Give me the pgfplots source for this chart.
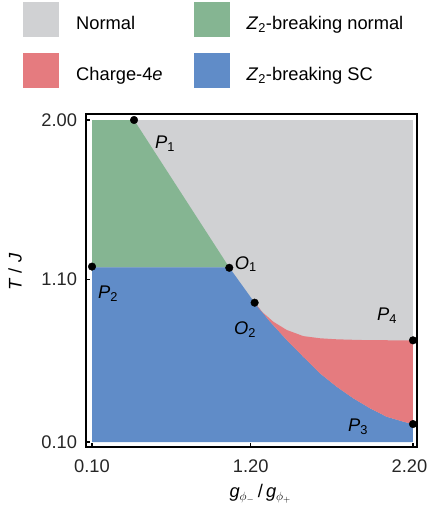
\documentclass[border=0pt]{standalone}
\usepackage{fontspec}
\setmainfont{Liberation Sans}
\usepackage{pgfplots}
\pgfplotsset{compat=1.18}

\definecolor{grayc}{RGB}{208,209,211}
\definecolor{greenc}{RGB}{133,181,146}
\definecolor{redc}{RGB}{229,123,127}
\definecolor{bluec}{RGB}{96,140,200}
\newcommand{\fs}{\fontsize{18.3}{21}\selectfont}

\begin{document}
\begin{tikzpicture}
\begin{axis}[
  at={(86pt,-447pt)}, anchor=south west,
  scale only axis, width=331pt, height=333pt,
  xmin=0.0607, xmax=2.2262, ymin=0.0705, ymax=2.0354,
  axis line style={line width=1.6pt},
  tick align=inside, xtick pos=bottom, ytick pos=left,
  major tick length=4pt, tick style={black, line width=1.2pt},
  xtick={0.1,1.138,2.2}, xticklabels={0.10,1.20,\hspace*{-7pt}2.20},
  ytick={0.1,1.060,2.0}, yticklabels={0.10,1.10,2.00},
  /pgf/number format/assume math mode=true,
  tick label style={font=\fs, text=black!85},
  xticklabel style={yshift=-9pt},
  yticklabel style={xshift=-5.5pt},
  xlabel={\textit{g}$_{\phi_-}$\,/\,\textit{g}$_{\phi_+}$},
  ylabel={\textit{T} / \textit{J}},
  every axis x label/.style={at={(axis description cs:0.527,-0.141)}, anchor=center, font=\fs},
  every axis y label/.style={at={(axis description cs:-0.2145,0.5255)}, anchor=center, rotate=90, font=\fs},
  legend columns=2,
  legend cell align=left,
  legend image code/.code={\fill[#1] (0pt,-13.7pt) rectangle (36pt,21.3pt);},
  legend style={at={(-0.1903,1.3363)}, anchor=north west, draw=none, fill=none,
    inner sep=0pt, row sep=16pt, font=\fs, nodes={inner sep=0pt},
    /tikz/every odd column/.append style={column sep=17pt},
    /tikz/every even column/.append style={column sep=31pt}},
]
% Normal background
\addplot[fill=grayc, draw=none, forget plot] coordinates {(0.1,0.1) (2.2,0.1) (2.2,2.0) (0.1,2.0)} -- cycle;
% Z2-breaking normal
\addplot[fill=greenc, draw=none, forget plot] coordinates {(0.1,1.13) (0.1,2.0) (0.375,2.0) (0.998,1.13)} -- cycle;
% Z2-breaking SC
\addplot[fill=bluec, draw=none, forget plot] coordinates {
  (0.1,0.1) (0.1,1.13) (0.998,1.13) (1.164,0.922) (1.265,0.810) (1.374,0.702)
  (1.482,0.603) (1.592,0.505) (1.701,0.426) (1.809,0.358) (1.919,0.299)
  (2.028,0.249) (2.137,0.220) (2.2,0.206) (2.2,0.1)} -- cycle;
% Charge-4e
\addplot[fill=redc, draw=none, forget plot] coordinates {
  (1.164,0.922) (1.199,0.879) (1.286,0.810) (1.374,0.761) (1.482,0.725)
  (1.592,0.712) (1.701,0.706) (1.853,0.702) (2.2,0.699) (2.2,0.206)
  (2.137,0.220) (2.028,0.249) (1.919,0.299) (1.809,0.358) (1.701,0.426)
  (1.592,0.505) (1.482,0.603) (1.374,0.702) (1.265,0.810)} -- cycle;
% special points
\addplot[only marks, mark=*, mark size=3.8pt, black, forget plot] coordinates {
  (0.375,2.0) (0.1,1.135) (0.998,1.128) (1.164,0.922) (2.2,0.70) (2.2,0.206)};

\node[font=\fs] at (axis cs:0.578,1.858) {\textit{P}\textsubscript{1}};
\node[font=\fs] at (axis cs:0.205,0.973) {\textit{P}\textsubscript{2}};
\node[font=\fs] at (axis cs:1.840,0.189) {\textit{P}\textsubscript{3}};
\node[font=\fs] at (axis cs:2.030,0.843) {\textit{P}\textsubscript{4}};
\node[font=\fs] at (axis cs:1.107,1.150) {\textit{O}\textsubscript{1}};
\node[font=\fs] at (axis cs:1.101,0.761) {\textit{O}\textsubscript{2}};

\addlegendimage{fill=grayc, draw=none}
\addlegendentry{Normal}
\addlegendimage{fill=greenc, draw=none}
\addlegendentry{\textit{Z}\textsubscript{2}-breaking normal}
\addlegendimage{fill=redc, draw=none}
\addlegendentry{Charge-4\textit{e}}
\addlegendimage{fill=bluec, draw=none}
\addlegendentry{\textit{Z}\textsubscript{2}-breaking SC}
\end{axis}
\pgfresetboundingbox
\path[use as bounding box] (0pt,0pt) rectangle (429pt,-509pt);
\end{tikzpicture}
\end{document}
